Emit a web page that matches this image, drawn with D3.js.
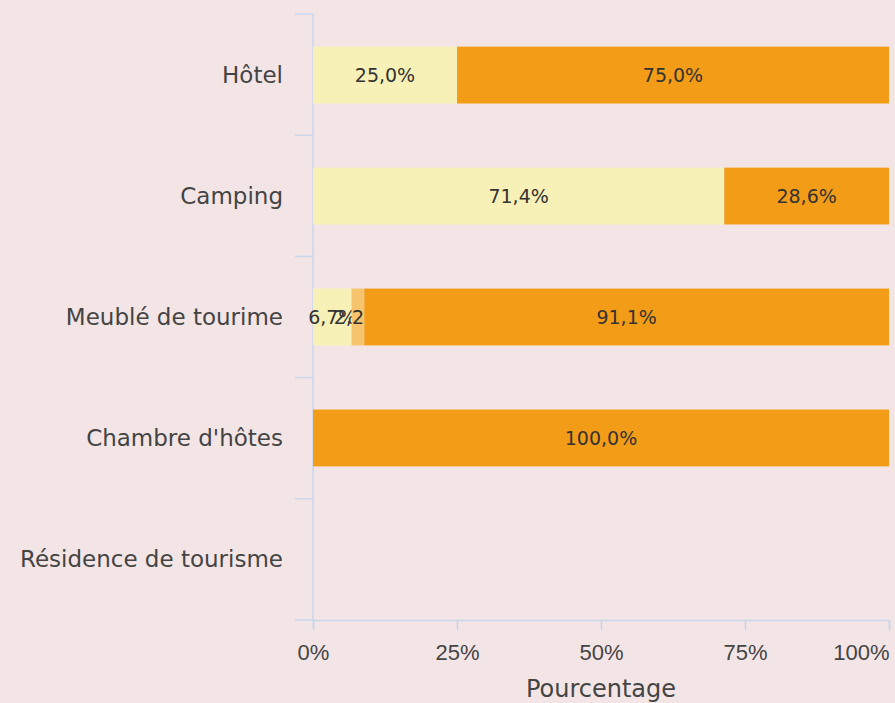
<!DOCTYPE html>
<html>
<head>
<meta charset="utf-8">
<script src="https://cdn.jsdelivr.net/npm/d3@7"></script>
<style>
  body { margin: 0; background: #f3e5e6; }
  svg { display: block; font-family: "Century Gothic", "DejaVu Sans", sans-serif; }
</style>
</head>
<body>
<div id="chart"></div>
<script>
// categories, top to bottom
var categories = ["Hôtel", "Camping", "Meublé de tourime", "Chambre d'hôtes", "Résidence de tourisme"];
// three stacked series (percent)
var seriesA = [25.0, 71.4, 6.7, 0, 0];
var seriesB = [0, 0, 2.2, 0, 0];
var seriesC = [75.0, 28.6, 91.1, 100.0, 0];
var seriesColors = ["#f8f1b7", "#f6c46c", "#f39c18"];
var xTicks = [0, 25, 50, 75, 100];

var svgWidth = 895;
var svgHeight = 703;
var margin = {top: 14, right: 6, bottom: 83, left: 313};
var width = svgWidth - margin.left - margin.right;
var height = svgHeight - margin.top - margin.bottom;

var svg = d3.select("#chart")
    .append("svg")
    .attr("width", svgWidth)
    .attr("height", svgHeight);

var chartGroup = svg.append("g")
    .attr("transform", `translate(${margin.left}, ${margin.top})`);

// build rows for the stack
var rows = categories.map(function(c, i) {
    return {cat: c, a: seriesA[i], b: seriesB[i], c: seriesC[i]};
});
var stacked = d3.stack().keys(["a", "b", "c"])(rows);

var xScale = d3.scaleLinear().domain([0, 100]).range([0, width]);
var yScale = d3.scaleBand().domain(categories).range([0, height]).paddingInner(0.53).paddingOuter(0.27);

var axisColor = "#c8d6ec";
var textColor = "#444";

// y axis: ticks at band boundaries
var yBound = d3.range(categories.length + 1).map(function(i) { return i * height / categories.length; });
chartGroup.append("g")
    .selectAll("line")
    .data(yBound)
    .enter()
    .append("line")
    .attr("x1", -18).attr("x2", 0)
    .attr("y1", d => d).attr("y2", d => d)
    .attr("stroke", axisColor).attr("stroke-width", 1.5);
chartGroup.append("line")
    .attr("x1", 0).attr("x2", 0).attr("y1", 0).attr("y2", height)
    .attr("stroke", axisColor).attr("stroke-width", 1.5);

// x axis
var bottomAxis = d3.axisBottom(xScale)
    .tickValues(xTicks)
    .tickSize(10)
    .tickSizeOuter(10)
    .tickPadding(14)
    .tickFormat(d => d + "%");
var xAxisG = chartGroup.append("g")
    .attr("transform", `translate(0, ${height})`)
    .call(bottomAxis);
xAxisG.select(".domain").attr("stroke", axisColor).attr("stroke-width", 1.5);
xAxisG.selectAll(".tick line").attr("stroke", axisColor).attr("stroke-width", 1.5);
xAxisG.selectAll(".tick text")
    .attr("fill", textColor)
    .style("font-size", "22px")
    .attr("text-anchor", (d, i) => i === xTicks.length - 1 ? "end" : "middle");

// category labels
chartGroup.append("g")
    .selectAll("text")
    .data(categories)
    .enter()
    .append("text")
    .text(d => d)
    .attr("x", -30)
    .attr("y", d => yScale(d) + yScale.bandwidth() / 2)
    .attr("dy", "0.35em")
    .attr("text-anchor", "end")
    .attr("fill", textColor)
    .style("font-size", "23px");

// bars
var layers = chartGroup.append("g")
    .selectAll("g")
    .data(stacked)
    .enter()
    .append("g")
    .attr("fill", (d, i) => seriesColors[i]);

layers.selectAll("rect")
    .data(d => d.filter(p => p[1] - p[0] > 0))
    .enter()
    .append("rect")
    .attr("x", d => xScale(d[0]))
    .attr("y", d => yScale(d.data.cat))
    .attr("width", d => xScale(d[1]) - xScale(d[0]))
    .attr("height", yScale.bandwidth());

// value labels
layers.selectAll("text")
    .data(d => d.filter(p => p[1] - p[0] > 0))
    .enter()
    .append("text")
    .text(d => d3.format(".1f")(d[1] - d[0]).replace(".", ",") + "%")
    .attr("x", d => (xScale(d[0]) + xScale(d[1])) / 2)
    .attr("y", d => yScale(d.data.cat) + yScale.bandwidth() / 2)
    .attr("dy", "0.35em")
    .attr("text-anchor", "middle")
    .attr("fill", "#333")
    .style("font-size", "19px");

// axis title
svg.append("text")
    .text("Pourcentage")
    .attr("x", margin.left + width / 2)
    .attr("y", 697)
    .attr("text-anchor", "middle")
    .attr("fill", textColor)
    .style("font-size", "24px");
</script>
</body>
</html>
